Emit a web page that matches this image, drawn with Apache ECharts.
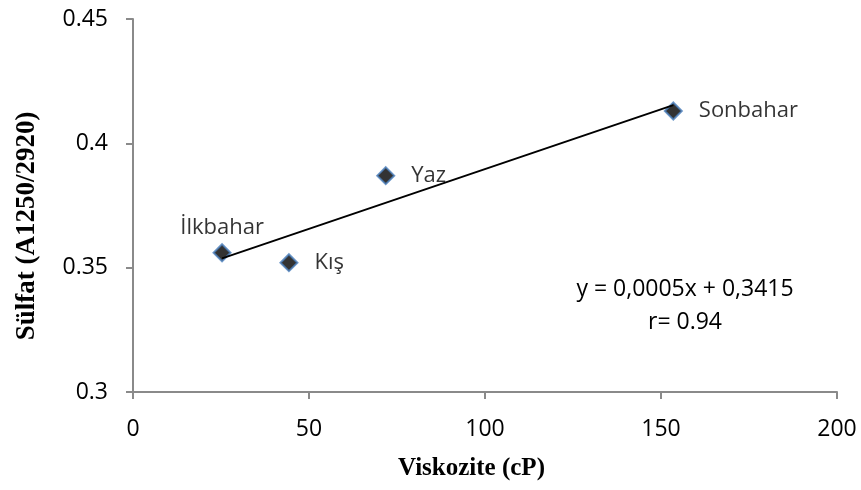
<!DOCTYPE html>
<html>
<head>
<meta charset="utf-8">
<script src="https://cdn.jsdelivr.net/npm/echarts@6/dist/echarts.min.js"></script>
<style>
  html, body { margin: 0; padding: 0; background: #fff; }
  #chart { width: 861px; height: 490px; }
</style>
</head>
<body>
<div id="chart"></div>
<script>
// Seasonal samples: viscosity (cP) against sulfate band ratio (A1250/2920)
const seasons   = ['İlkbahar', 'Kış', 'Yaz', 'Sonbahar'];
const viscosity = [25.3, 44.3, 71.8, 153.5];
const sulfate   = [0.356, 0.352, 0.387, 0.413];
const labelSide = ['top', 'right', 'right', 'right'];

const xTicks = [0, 50, 100, 150, 200];
const yTicks = [0.3, 0.35, 0.4, 0.45];

const equationText = 'y = 0,0005x + 0,3415';
const rText = 'r= 0.94';

// Least-squares linear fit through the sample points
function linearFit(xs, ys) {
  const n = xs.length;
  const mx = xs.reduce((a, b) => a + b, 0) / n;
  const my = ys.reduce((a, b) => a + b, 0) / n;
  let sxy = 0, sxx = 0;
  for (let i = 0; i < n; i++) {
    sxy += (xs[i] - mx) * (ys[i] - my);
    sxx += (xs[i] - mx) * (xs[i] - mx);
  }
  const slope = sxy / sxx;
  return { slope, intercept: my - slope * mx };
}
const fit = linearFit(viscosity, sulfate);
const xLo = Math.min(...viscosity), xHi = Math.max(...viscosity);
const trend = [[xLo, fit.intercept + fit.slope * xLo], [xHi, fit.intercept + fit.slope * xHi]];

const sans = '"Open Sans", "Noto Sans", sans-serif';
const serif = '"Liberation Serif", "DejaVu Serif", serif';
const axisGray = '#8a8a8a';

const chart = echarts.init(document.getElementById('chart'), null, { renderer: 'canvas' });
chart.setOption({
  animation: false,
  grid: { left: 133, right: 24, top: 19, bottom: 98, containLabel: false },
  xAxis: {
    type: 'value',
    min: xTicks[0], max: xTicks[xTicks.length - 1], interval: 50,
    splitLine: { show: false },
    axisLine: { show: true, onZero: false, lineStyle: { color: axisGray, width: 2 } },
    axisTick: { show: true, length: 7, lineStyle: { color: axisGray, width: 2 } },
    axisLabel: { margin: 26, color: '#000', fontFamily: sans, fontSize: 23 },
    name: 'Viskozite (cP)',
    nameLocation: 'middle',
    nameGap: 64,
    nameTextStyle: { fontFamily: serif, fontWeight: 'bold', fontSize: 25, color: '#000', padding: [0, 27, 0, 0] }
  },
  yAxis: {
    type: 'value',
    min: yTicks[0], max: yTicks[yTicks.length - 1], interval: 0.05,
    splitLine: { show: false },
    axisLine: { show: true, onZero: false, lineStyle: { color: axisGray, width: 2 } },
    axisTick: { show: true, length: 7, lineStyle: { color: axisGray, width: 2 } },
    axisLabel: {
      margin: 25, color: '#000', fontFamily: sans, fontSize: 23,
      formatter: v => String(parseFloat(v.toFixed(2)))
    },
    name: 'Sülfat (A1250/2920)',
    nameLocation: 'middle',
    nameGap: 92,
    nameRotate: 90,
    nameTextStyle: { fontFamily: serif, fontWeight: 'bold', fontSize: 27, color: '#000', padding: [0, 41, 0, 0] }
  },
  series: [
    {
      type: 'scatter',
      symbol: 'diamond',
      symbolSize: 17,
      z: 2,
      itemStyle: { color: '#000', borderColor: '#4a7ebb', borderWidth: 2 },
      data: viscosity.map((x, i) => ({
        value: [x, sulfate[i]],
        name: seasons[i],
        label: { position: labelSide[i], distance: labelSide[i] === 'top' ? 5 : 16 }
      })),
      label: {
        show: true,
        formatter: p => p.name,
        color: '#000', fontFamily: sans, fontSize: 22
      }
    },
    {
      type: 'line',
      z: 3,
      data: trend,
      symbol: 'none',
      silent: true,
      lineStyle: { color: '#000', width: 2 }
    }
  ],
  graphic: [
    {
      type: 'text', z: 10, x: 685, y: 289,
      style: { text: equationText, x: 0, y: 0, align: 'center', verticalAlign: 'middle', fill: '#000', font: '23px ' + sans }
    },
    {
      type: 'text', z: 10, x: 685, y: 322,
      style: { text: rText, x: 0, y: 0, align: 'center', verticalAlign: 'middle', fill: '#000', font: '23px ' + sans }
    }
  ]
});
</script>
</body>
</html>
